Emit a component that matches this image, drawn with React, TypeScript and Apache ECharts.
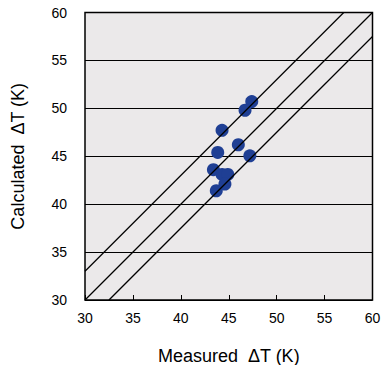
import React, { useEffect, useRef } from "react";
import * as echarts from "echarts";

const measured = [47.4, 46.7, 44.3, 46.0, 43.85, 47.2, 43.4, 44.3, 44.9, 44.6, 43.7];
const calculated = [50.7, 49.8, 47.7, 46.2, 45.4, 45.05, 43.6, 43.1, 43.1, 42.1, 41.4];
const upperLine = [[30, 33], [57, 60]];
const equalLine = [[30, 30], [60, 60]];
const lowerLine = [[32.5, 30], [60, 57.5]];

export default function App() {
  const ref = useRef<HTMLDivElement>(null);
  useEffect(() => {
    const chart = echarts.init(ref.current!, null, { renderer: "svg" });
    const font = "'Liberation Sans', Arial, sans-serif";
    const lineStyle = { color: "#000", width: 1.3 };
    chart.setOption({
      animation: false,
      grid: {
        left: 85,
        right: 9.5,
        top: 12.5,
        bottom: 65,
        show: true,
        outerBoundsMode: "none",
        containLabel: false,
        backgroundColor: "#ebe9ea",
        borderColor: "#000",
        borderWidth: 1.5,
      },
      xAxis: {
        type: "value",
        min: 30,
        max: 60,
        interval: 5,
        name: "Measured  ΔT (K)",
        nameLocation: "middle",
        nameGap: 47,
        nameTextStyle: { color: "#000", fontSize: 18, fontFamily: font },
        axisLine: { show: false },
        axisTick: { show: true, inside: true, length: 5, lineStyle: { color: "#000", width: 1 } },
        axisLabel: { color: "#000", fontSize: 14, fontFamily: font, margin: 11 },
        splitLine: { show: false },
      },
      yAxis: {
        type: "value",
        min: 30,
        max: 60,
        interval: 5,
        name: "Calculated  ΔT (K)",
        nameLocation: "middle",
        nameGap: 58,
        nameTextStyle: { color: "#000", fontSize: 18, fontFamily: font },
        axisLine: { show: false },
        axisTick: { show: false },
        axisLabel: { color: "#000", fontSize: 14, fontFamily: font, margin: 18 },
        splitLine: { show: true, lineStyle: { color: "#000", width: 1.1 } },
      },
      series: [
        { type: "line", data: upperLine, symbol: "none", lineStyle, silent: true },
        { type: "line", data: equalLine, symbol: "none", lineStyle, silent: true },
        { type: "line", data: lowerLine, symbol: "none", lineStyle, silent: true },
        {
          type: "scatter",
          data: measured.map((m, i) => [m, calculated[i]]),
          symbol: "circle",
          symbolSize: 13,
          itemStyle: { color: "#1f3f94", opacity: 1 },
        },
      ],
    });
    return () => chart.dispose();
  }, []);
  return <div ref={ref} style={{ width: 382, height: 365, position: "absolute", left: 0, top: 0 }} />;
}
